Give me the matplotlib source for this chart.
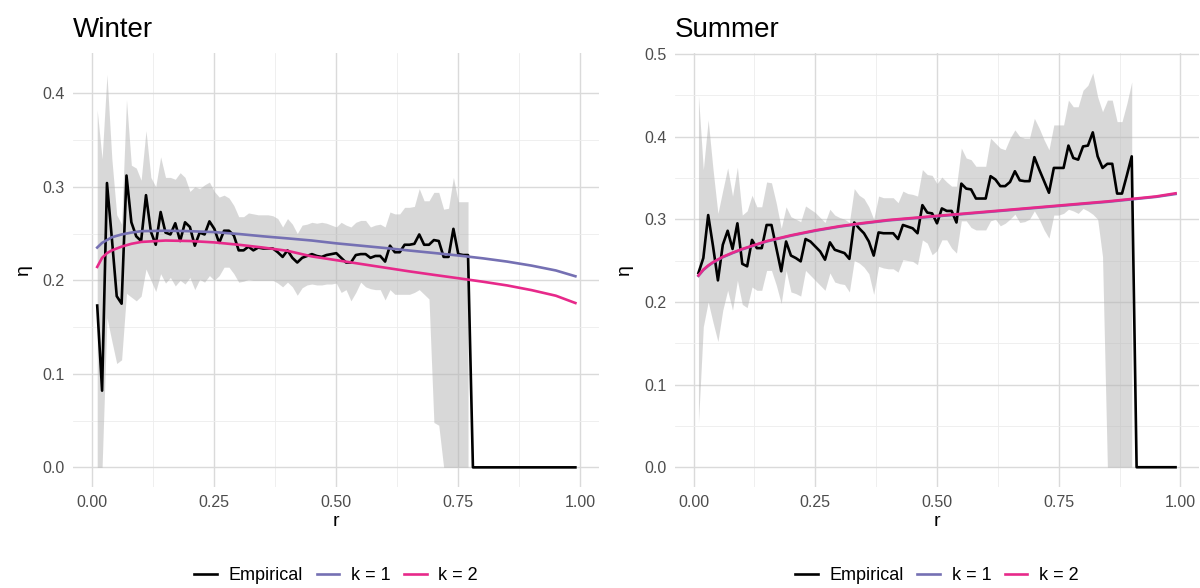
import numpy as np
import matplotlib
matplotlib.use("Agg")
import matplotlib.pyplot as plt

plt.rcParams["font.family"] = ["Liberation Sans", "DejaVu Sans"]

# radius grid of the empirical estimate
r = np.round(np.arange(1, 100) / 100, 2)

# ---- winter ----
winter_emp = [
    0.173, 0.082, 0.304, 0.245, 0.183, 0.175, 0.312, 0.262, 0.247, 0.242,
    0.291, 0.252, 0.238, 0.273, 0.251, 0.249, 0.261, 0.242, 0.262, 0.257,
    0.237, 0.251, 0.249, 0.263, 0.255, 0.240, 0.253, 0.253, 0.248, 0.232,
    0.232, 0.236, 0.232, 0.235, 0.234, 0.234, 0.234, 0.230, 0.225, 0.232,
    0.224, 0.219, 0.224, 0.226, 0.228, 0.226, 0.225, 0.227, 0.228, 0.229,
    0.224, 0.219, 0.219, 0.227, 0.228, 0.228, 0.224, 0.226, 0.226, 0.220,
    0.237, 0.230, 0.230, 0.238, 0.238, 0.239, 0.249, 0.238, 0.238, 0.243,
    0.242, 0.225, 0.225, 0.255, 0.228, 0.227, 0.227, 0.0, 0.0, 0.0,
    0.0, 0.0, 0.0, 0.0, 0.0, 0.0, 0.0, 0.0, 0.0, 0.0,
    0.0, 0.0, 0.0, 0.0, 0.0, 0.0, 0.0, 0.0, 0.0,
]
winter_hi = [
    0.382, 0.330, 0.420, 0.330, 0.270, 0.260, 0.393, 0.323, 0.320, 0.307,
    0.360, 0.310, 0.300, 0.332, 0.310, 0.310, 0.308, 0.315, 0.310, 0.295,
    0.300, 0.298, 0.302, 0.305, 0.295, 0.289, 0.291, 0.288, 0.280, 0.268,
    0.268, 0.272, 0.271, 0.270, 0.270, 0.270, 0.269, 0.266, 0.257, 0.266,
    0.260, 0.250, 0.259, 0.260, 0.262, 0.261, 0.262, 0.261, 0.259, 0.257,
    0.262, 0.259, 0.257, 0.262, 0.264, 0.264, 0.257, 0.259, 0.260, 0.257,
    0.273, 0.271, 0.271, 0.278, 0.278, 0.279, 0.298, 0.285, 0.285, 0.294,
    0.294, 0.276, 0.277, 0.310, 0.284, 0.284, 0.284,
]
winter_lo = [
    0.0, 0.0, 0.160, 0.135, 0.111, 0.115, 0.186, 0.182, 0.178, 0.183,
    0.212, 0.200, 0.188, 0.207, 0.197, 0.203, 0.194, 0.200, 0.196, 0.203,
    0.190, 0.201, 0.198, 0.205, 0.200, 0.205, 0.214, 0.214, 0.207, 0.198,
    0.199, 0.201, 0.200, 0.200, 0.200, 0.200, 0.200, 0.197, 0.193, 0.198,
    0.193, 0.184, 0.192, 0.195, 0.196, 0.195, 0.195, 0.196, 0.196, 0.197,
    0.187, 0.190, 0.178, 0.187, 0.198, 0.193, 0.191, 0.190, 0.190, 0.179,
    0.190, 0.185, 0.185, 0.185, 0.185, 0.187, 0.190, 0.185, 0.180, 0.048,
    0.045, 0.0, 0.0, 0.0, 0.0, 0.0, 0.0,
]

# ---- summer ----
summer_emp = [
    0.235, 0.253, 0.305, 0.267, 0.226, 0.269, 0.286, 0.264, 0.295, 0.246,
    0.243, 0.275, 0.265, 0.265, 0.293, 0.293, 0.265, 0.237, 0.273, 0.256,
    0.253, 0.249, 0.276, 0.273, 0.267, 0.261, 0.251, 0.272, 0.263, 0.261,
    0.259, 0.252, 0.296, 0.289, 0.283, 0.273, 0.256, 0.284, 0.283, 0.283,
    0.283, 0.276, 0.293, 0.291, 0.289, 0.283, 0.317, 0.308, 0.307, 0.295,
    0.313, 0.310, 0.310, 0.296, 0.343, 0.337, 0.336, 0.325, 0.325, 0.325,
    0.352, 0.348, 0.340, 0.340, 0.345, 0.358, 0.347, 0.346, 0.346, 0.375,
    0.360, 0.346, 0.332, 0.362, 0.362, 0.362, 0.389, 0.374, 0.372, 0.388,
    0.389, 0.405, 0.376, 0.362, 0.367, 0.367, 0.331, 0.331, 0.353, 0.376,
    0.0, 0.0, 0.0, 0.0, 0.0, 0.0, 0.0, 0.0, 0.0,
]
summer_hi = [
    0.450, 0.360, 0.420, 0.360, 0.307, 0.335, 0.362, 0.328, 0.363, 0.305,
    0.310, 0.329, 0.315, 0.315, 0.345, 0.344, 0.319, 0.289, 0.315, 0.303,
    0.300, 0.297, 0.316, 0.312, 0.308, 0.302, 0.296, 0.312, 0.305, 0.302,
    0.300, 0.296, 0.337, 0.329, 0.325, 0.315, 0.300, 0.328, 0.326, 0.326,
    0.326, 0.320, 0.334, 0.331, 0.330, 0.328, 0.360, 0.354, 0.353, 0.343,
    0.351, 0.345, 0.340, 0.340, 0.386, 0.374, 0.372, 0.364, 0.364, 0.364,
    0.398, 0.392, 0.386, 0.384, 0.398, 0.408, 0.400, 0.398, 0.398, 0.422,
    0.410, 0.396, 0.384, 0.414, 0.414, 0.414, 0.444, 0.436, 0.436, 0.456,
    0.462, 0.477, 0.448, 0.430, 0.444, 0.444, 0.418, 0.418, 0.440, 0.466,
]
summer_lo = [
    0.053, 0.170, 0.200, 0.175, 0.152, 0.190, 0.214, 0.190, 0.226, 0.197,
    0.193, 0.218, 0.214, 0.214, 0.238, 0.238, 0.220, 0.198, 0.238, 0.212,
    0.210, 0.207, 0.238, 0.232, 0.226, 0.220, 0.214, 0.235, 0.224, 0.222,
    0.221, 0.212, 0.250, 0.247, 0.242, 0.234, 0.209, 0.243, 0.241, 0.240,
    0.240, 0.236, 0.251, 0.250, 0.249, 0.245, 0.275, 0.271, 0.257, 0.262,
    0.275, 0.275, 0.265, 0.259, 0.298, 0.298, 0.290, 0.287, 0.287, 0.287,
    0.298, 0.300, 0.292, 0.295, 0.300, 0.306, 0.296, 0.297, 0.300, 0.310,
    0.300, 0.287, 0.277, 0.305, 0.305, 0.307, 0.312, 0.310, 0.307, 0.313,
    0.310, 0.306, 0.300, 0.255, 0.0, 0.0, 0.0, 0.0, 0.0, 0.0,
]

# fitted model curves (k = 1 and k = 2)
r_fit = [0.01, 0.02, 0.03, 0.04, 0.06, 0.08, 0.10, 0.15, 0.20, 0.25, 0.30,
         0.35, 0.40, 0.45, 0.50, 0.55, 0.60, 0.65, 0.70, 0.75, 0.80, 0.85,
         0.90, 0.95, 0.99]
winter_k1 = [0.235, 0.240, 0.243, 0.246, 0.249, 0.251, 0.2525, 0.253, 0.2525,
             0.2515, 0.2495, 0.247, 0.2448, 0.2425, 0.2395, 0.237, 0.2345,
             0.2318, 0.2292, 0.2265, 0.2235, 0.220, 0.2157, 0.2105, 0.2043]
winter_k2 = [0.2143, 0.224, 0.229, 0.232, 0.236, 0.239, 0.241, 0.2425, 0.242,
             0.2405, 0.238, 0.235, 0.2315, 0.2255, 0.2215, 0.2175, 0.2135,
             0.2095, 0.2058, 0.2022, 0.1985, 0.1945, 0.1895, 0.1835, 0.1757]
summer_k1 = [0.2315, 0.2385, 0.2435, 0.2475, 0.254, 0.259, 0.2635, 0.273,
             0.280, 0.286, 0.291, 0.295, 0.2985, 0.301, 0.3035, 0.306, 0.3085,
             0.311, 0.3135, 0.316, 0.3185, 0.321, 0.324, 0.327, 0.3305]
summer_k2 = [0.232, 0.239, 0.244, 0.248, 0.2545, 0.2595, 0.264, 0.2735,
             0.2805, 0.2865, 0.2915, 0.2955, 0.299, 0.3015, 0.304, 0.3065,
             0.309, 0.3115, 0.314, 0.3165, 0.319, 0.3215, 0.3245, 0.3275,
             0.3313]

W, H = 1200, 588
fig = plt.figure(figsize=(12, 5.88), dpi=100)


def draw_panel(left, width, title, emp, lo, hi, k1, k2, ylim, yticks, yminor):
    ax = fig.add_axes([left / W, 101 / H, width / W, 434 / H])
    n = len(lo)
    ax.fill_between(r[:n], lo, hi, color="#B3B3B3", alpha=0.5, lw=0, zorder=2)
    l0, = ax.plot(r, emp, color="black", lw=1.9, zorder=3)
    l1, = ax.plot(r_fit, k1, color="#7570B3", lw=1.9, zorder=4)
    l2, = ax.plot(r_fit, k2, color="#E7298A", lw=1.9, zorder=5)

    ax.set_xlim(-0.039, 1.039)
    ax.set_ylim(*ylim)
    ax.set_xticks([0, 0.25, 0.5, 0.75, 1.0])
    ax.set_xticklabels(["0.00", "0.25", "0.50", "0.75", "1.00"])
    ax.set_xticks([0.125, 0.375, 0.625, 0.875], minor=True)
    ax.set_yticks(yticks)
    ax.set_yticklabels(["%.1f" % v for v in yticks])
    ax.set_yticks(yminor, minor=True)
    ax.grid(which="major", color="#DADADA", lw=1.0, zorder=0)
    ax.grid(which="minor", color="#EDEDED", lw=0.6, zorder=0)
    ax.set_axisbelow(True)
    for s in ax.spines.values():
        s.set_visible(False)
    ax.tick_params(which="both", length=0, labelsize=11.5, colors="#4D4D4D")
    ax.tick_params(axis="y", pad=6)
    ax.tick_params(axis="x", pad=6)
    ax.set_xlabel("r", fontsize=14, labelpad=2)
    ax.set_ylabel("η", fontsize=14, labelpad=8)
    ax.set_title(title, loc="left", fontsize=20, pad=11.5)

    cx = (left + width / 2) / W
    ax.legend([l0, l1, l2], ["Empirical", "k = 1", "k = 2"], loc="center",
              bbox_to_anchor=(cx, 1 - 576 / H), bbox_transform=fig.transFigure,
              ncol=3, frameon=False, fontsize=13, handlelength=1.25,
              handletextpad=0.65, columnspacing=0.75)
    return ax


draw_panel(73.3, 526.0, "Winter", winter_emp, winter_lo, winter_hi,
           winter_k1, winter_k2, (-0.021, 0.443),
           [0.0, 0.1, 0.2, 0.3, 0.4], [0.05, 0.15, 0.25, 0.35])
draw_panel(674.6, 524.8, "Summer", summer_emp, summer_lo, summer_hi,
           summer_k1, summer_k2, (-0.0239, 0.501),
           [0.0, 0.1, 0.2, 0.3, 0.4, 0.5], [0.05, 0.15, 0.25, 0.35, 0.45])

fig.savefig("out.png", dpi=100, facecolor="white")
